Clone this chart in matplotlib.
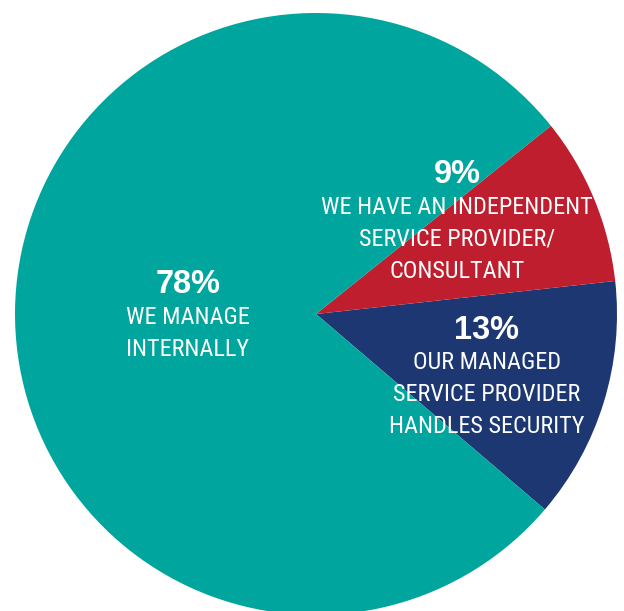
import matplotlib
matplotlib.use("Agg")
import matplotlib.pyplot as plt
from matplotlib import font_manager

# shares, in drawing order (counter-clockwise from the lower right)
shares = [13, 9, 78]
captions = [
    ["OUR MANAGED", "SERVICE PROVIDER", "HANDLES SECURITY"],
    ["WE HAVE AN INDEPENDENT", "SERVICE PROVIDER/", "CONSULTANT"],
    ["WE MANAGE", "INTERNALLY"],
]
colors = ["#1D3773", "#BE1E2D", "#00A69D"]

# canvas is 624x611 px, pie centre at (316, 314) px, radius 301 px
CX, CY, R = 316, 314, 301


def to_data(px, py):
    return (px - CX) / R, (CY - py) / R


# label layout in pixels: (x centre, percent baseline, first caption baseline)
label_px = [(487, 339, 369), (457, 183, 214), (188, 293, 324)]
line_step = 32

installed = {f.name for f in font_manager.fontManager.ttflist}
narrow = next((n for n in ["Roboto Condensed", "Liberation Sans Narrow",
                           "Open Sans Condensed", "DejaVu Sans Condensed"]
               if n in installed), "Liberation Sans")

fig = plt.figure(figsize=(6.24, 6.11), dpi=100)
ax = fig.add_axes([0, 0, 1, 1])
ax.pie(shares, colors=colors, startangle=-40.5, counterclock=True,
       radius=1.0, center=(0, 0), wedgeprops={"linewidth": 0})
ax.set_xlim(-CX / R, (624 - CX) / R)
ax.set_ylim((CY - 611) / R, CY / R)
ax.set_aspect("equal")
ax.axis("off")

for v, lines, (px, pct_y, cap_y) in zip(shares, captions, label_px):
    ax.text(*to_data(px, pct_y), f"{v}%", ha="center", va="baseline",
            color="white", fontsize=23.5, fontweight="bold",
            family="Liberation Sans")
    for i, line in enumerate(lines):
        ax.text(*to_data(px, cap_y + i * line_step), line, ha="center",
                va="baseline", color="white", fontsize=17.5, family=narrow)

fig.savefig("out.png", dpi=100)
